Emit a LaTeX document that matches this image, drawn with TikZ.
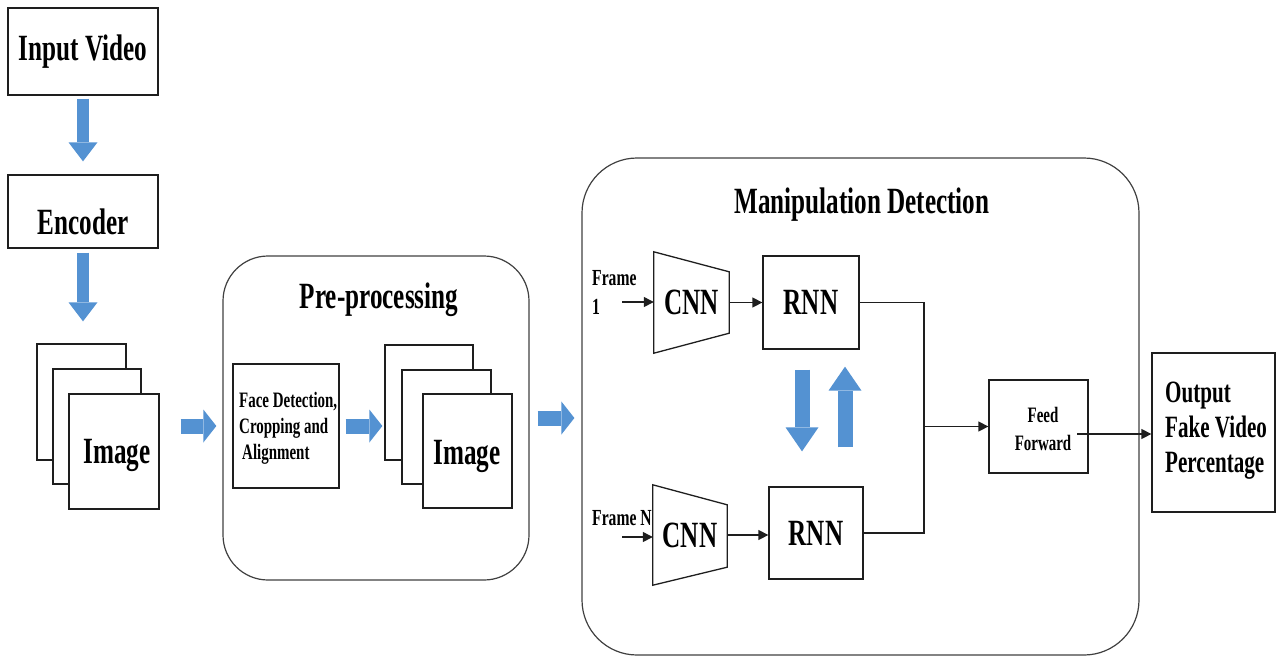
\documentclass[tikz,border=0pt]{standalone}
\usepackage{fontspec}
\setmainfont{Liberation Serif}[FakeStretch=0.68]
\usetikzlibrary{arrows.meta,calc}
\definecolor{flowblue}{RGB}{84,146,210}
\definecolor{edge}{RGB}{30,30,30}
\begin{document}
\begin{tikzpicture}[x=1pt,y=-1pt,
  box/.style={draw=edge, line width=1.3pt, fill=white, inner sep=0pt},
  panel/.style={draw=edge!85, line width=1.2pt, rounded corners=#1, inner sep=0pt},
  big/.style={font=\bfseries\fontsize{37}{40}\selectfont},
  mid/.style={font=\bfseries\fontsize{31}{35}\selectfont},
  small/.style={font=\bfseries\fontsize{22}{26}\selectfont},
  tag/.style={inner sep=0pt},
  flowV/.style={draw=flowblue, line width=12pt, line cap=butt,
    -{Triangle[length=19pt,width=29pt,line width=0pt]}},
  flowM/.style={draw=flowblue, line width=15pt, line cap=butt,
    -{Triangle[length=24pt,width=33pt,line width=0pt]}},
  flowH/.style={draw=flowblue, line width=15pt, line cap=butt,
    -{Triangle[length=13pt,width=33pt,line width=0pt]}},
  link/.style={draw=edge, line width=1.3pt, -{Triangle[length=10pt,width=10pt]}},
  wire/.style={draw=edge, line width=1.3pt},
]
\useasboundingbox (0,0) rectangle (1277,657);

% ---- input side ----
\node[box, big, minimum width=150pt, minimum height=87pt] (iv) at (83,51.5) {Input Video};
\node[box, minimum width=150pt, minimum height=73pt] (enc) at (83,211.5) {};
\node[tag, big] (encT) at (83,222) {Encoder};

% frame stack after the encoder
\node[box, minimum width=89pt, minimum height=116pt] (imgAb) at (81.5,402) {};
\node[box, minimum width=88pt, minimum height=115pt] (imgAm) at (97,426.5) {};
\node[box, minimum width=90pt, minimum height=115pt] (imgAf) at (114,451.5) {};
\node[tag, big] (imgAT) at (117,455) {Image};

% ---- pre-processing panel ----
\node[panel=45pt, minimum width=306pt, minimum height=324pt] (pre) at (376,418) {};
\node[big, anchor=base] (preT) at (379,308) {Pre-processing};
\node[box, minimum width=106pt, minimum height=124pt] (face) at (286,426) {};
\node[tag, small, align=left, anchor=west] (faceT) at (239,428)
  {Face Detection,\\Cropping and\\\hspace{3pt}Alignment};
\node[box, minimum width=88pt, minimum height=115pt] (imgBb) at (429,402.5) {};
\node[box, minimum width=89pt, minimum height=114pt] (imgBm) at (446.5,427) {};
\node[box, minimum width=89pt, minimum height=114pt] (imgBf) at (467.5,451) {};
\node[tag, big] (imgBT) at (467,456) {Image};

% ---- manipulation detection panel ----
\node[panel=55pt, minimum width=557pt, minimum height=497pt] (man) at (860.5,406.5) {};
\node[big, anchor=base] (manT) at (862,213) {Manipulation Detection};

% CNN encoders drawn as trapezoids around their labels
\node[big, minimum width=75pt, minimum height=101pt, inner sep=0pt] (cnn1) at (691.5,302.5) {CNN};
\draw[wire] (cnn1.north west) -- ([yshift=-20pt]cnn1.north east)
  -- ([yshift=20pt]cnn1.south east) -- (cnn1.south west) -- cycle;
\node[big, minimum width=74pt, minimum height=100pt, inner sep=0pt] (cnn2) at (690,535) {CNN};
\draw[wire] (cnn2.north west) -- ([yshift=-20pt]cnn2.north east)
  -- ([yshift=18pt]cnn2.south east) -- (cnn2.south west) -- cycle;

\node[box, big, minimum width=96pt, minimum height=93pt] (rnn1) at (811,302.5) {RNN};
\node[box, big, minimum width=94pt, minimum height=92pt] (rnn2) at (816,533) {RNN};

\node[tag, align=left, anchor=west, font=\bfseries\fontsize{23}{29}\selectfont] (fr1) at (592,292) {Frame\\1};
\node[tag, anchor=west, font=\bfseries\fontsize{23}{29}\selectfont] (frN) at (592,518) {Frame N};
\coordinate (in1) at (622,302);
\coordinate (inN) at (622,537);

\node[box, minimum width=99pt, minimum height=93pt] (ff) at (1038.5,426.5) {};
\node[tag, align=center, font=\bfseries\fontsize{22}{28}\selectfont] (ffT) at (1043,429) {Feed\\Forward};
\node[box, minimum width=123pt, minimum height=159pt] (out) at (1213.5,432.5) {};
\node[tag, mid, align=left, anchor=west] (outT) at (1165,431) {Output\\Fake Video\\Percentage};

% ---- block arrows ----
\draw[flowV, shorten <=3pt, shorten >=13pt] (iv.south) -- (enc.north);
\draw[flowV, shorten <=4pt, shorten >=22pt] (enc.south) -- (enc.south |- imgAb.north);
\draw[flowH, shorten <=21pt, shorten >=16pt] (imgAf.east |- face.west) -- (face.west);
\draw[flowH, shorten <=6pt, shorten >=2pt] (face.east) -- (face.east -| imgBb.west);
\draw[flowH, shorten <=8pt, shorten >=7pt] (pre.east) -- (pre.east -| man.west);
\draw[flowM, shorten <=20pt, shorten >=35pt] ([xshift=-9pt]rnn1.south) -- ([xshift=-9pt]rnn1.south |- rnn2.north);
\draw[flowM, shorten <=39pt, shorten >=17pt] ([xshift=34pt]rnn1.south |- rnn2.north) -- ([xshift=34pt]rnn1.south);

% ---- signal lines ----
\draw[link] (in1) -- (in1 -| cnn1.west);
\draw[link] (inN) -- (inN -| cnn2.west);
\draw[link] (cnn1.east) -- (rnn1.west);
\draw[link] (cnn2.east) -- (cnn2.east -| rnn2.west);
\coordinate (join) at (924,426.5);
\draw[wire] (rnn1.east) -| (join);
\draw[wire] (rnn2.east) -| (join);
\draw[link] (join) -- (ff.west);
\coordinate (ffo) at (1077,434);
\draw[link] (ffo) -- (ffo -| out.west);
\end{tikzpicture}
\end{document}
